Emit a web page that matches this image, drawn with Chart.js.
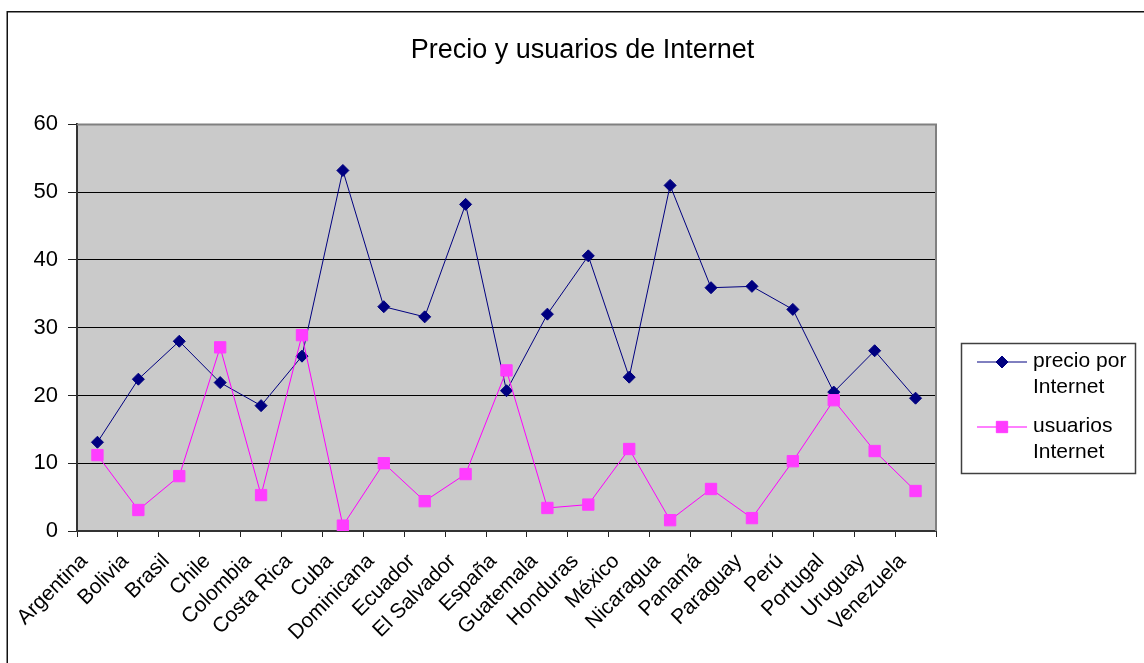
<!DOCTYPE html>
<html lang="es">
<head>
<meta charset="utf-8">
<title>Precio y usuarios de Internet</title>
<script src="https://cdn.jsdelivr.net/npm/chart.js@4/dist/chart.umd.min.js"></script>
<style>
  html, body { margin: 0; padding: 0; background: #fff; }
  canvas { display: block; }
</style>
</head>
<body>
<canvas id="precio-chart" width="1144" height="663"></canvas>
<script>
const paises = [
  "Argentina", "Bolivia", "Brasil", "Chile", "Colombia", "Costa Rica", "Cuba",
  "Dominicana", "Ecuador", "El Salvador", "España", "Guatemala", "Honduras",
  "México", "Nicaragua", "Panamá", "Paraguay", "Perú", "Portugal", "Uruguay", "Venezuela"
];
const precioInternet = [
  13.1, 22.4, 28.0, 21.9, 18.5, 25.8, 53.2, 33.1, 31.6, 48.2, 20.7,
  32.0, 40.6, 22.7, 51.0, 35.9, 36.1, 32.7, 20.5, 26.6, 19.6
];
const usuariosInternet = [
  11.2, 3.1, 8.1, 27.1, 5.3, 28.9, 0.8, 10.0, 4.4, 8.4, 23.7,
  3.4, 3.9, 12.1, 1.6, 6.2, 1.9, 10.3, 19.3, 11.8, 5.9
];
const yMin = 0;
const yMax = 60;
const yStep = 10;

const FONT = 'Arial, "Liberation Sans", sans-serif';
const navy = "#000080";
const magenta = "#ff3cff";
const plotGray = "#cacaca";

Chart.defaults.font.family = FONT;
Chart.defaults.color = "#000";

// fondo gris del área de trazado y marco del gráfico
const plotFrame = {
  id: "plotFrame",
  beforeDraw(chart) {
    const { ctx, chartArea: a } = chart;
    ctx.save();
    ctx.fillStyle = "#fff";
    ctx.fillRect(0, 0, chart.width, chart.height);
    ctx.strokeStyle = "#111";
    ctx.lineWidth = 1.5;
    ctx.strokeRect(7.25, 11.75, chart.width + 20, chart.height + 20);
    ctx.fillStyle = plotGray;
    ctx.fillRect(a.left, a.top, a.width, a.height);
    ctx.restore();
  },
  beforeDatasetsDraw(chart) {
    // borde gris arriba y a la derecha
    const { ctx, chartArea: a } = chart;
    ctx.save();
    ctx.strokeStyle = "#808080";
    ctx.lineWidth = 2;
    ctx.beginPath();
    ctx.moveTo(a.left, a.top);
    ctx.lineTo(a.right, a.top);
    ctx.lineTo(a.right, a.bottom);
    ctx.stroke();
    ctx.restore();
  },
};

function drawMarker(ctx, ds, x, y) {
  ctx.fillStyle = ds.pointBackgroundColor;
  ctx.strokeStyle = ds.pointBorderColor;
  ctx.lineWidth = ds.pointBorderWidth;
  if (Chart.helpers && Chart.helpers.drawPoint) {
    Chart.helpers.drawPoint(ctx, {
      pointStyle: ds.pointStyle,
      radius: ds.pointRadius,
      borderWidth: ds.pointBorderWidth,
      rotation: 0,
    }, x, y);
    return;
  }
  const r = ds.pointRadius;
  ctx.beginPath();
  if (ds.pointStyle === "rectRot") {
    ctx.moveTo(x, y - r);
    ctx.lineTo(x + r, y);
    ctx.lineTo(x, y + r);
    ctx.lineTo(x - r, y);
  } else {
    const s = r * Math.SQRT1_2;
    ctx.rect(x - s, y - s, 2 * s, 2 * s);
  }
  ctx.closePath();
  ctx.fill();
  ctx.stroke();
}

// leyenda en recuadro, con el texto en dos líneas
const seriesLegend = {
  id: "seriesLegend",
  afterDraw(chart) {
    const { ctx } = chart;
    ctx.save();
    ctx.fillStyle = "#fff";
    ctx.fillRect(961.5, 343.5, 174, 130);
    ctx.strokeStyle = "#404040";
    ctx.lineWidth = 1.5;
    ctx.strokeRect(961.5, 343.5, 174, 130);
    chart.data.datasets.forEach((ds, i) => {
      const y = 362 + i * 65;
      ctx.strokeStyle = ds.borderColor;
      ctx.lineWidth = 1;
      ctx.beginPath();
      ctx.moveTo(977, y);
      ctx.lineTo(1027, y);
      ctx.stroke();
      drawMarker(ctx, ds, 1002, y);
      ctx.fillStyle = "#000";
      ctx.font = "21px " + FONT;
      ctx.textBaseline = "alphabetic";
      ctx.textAlign = "left";
      ds.legendLines.forEach((t, k) => ctx.fillText(t, 1033, y + 5 + k * 26));
    });
    ctx.restore();
  },
};

new Chart(document.getElementById("precio-chart"), {
  type: "line",
  data: {
    labels: paises,
    datasets: [
      {
        label: "precio por Internet",
        legendLines: ["precio por", "Internet"],
        data: precioInternet,
        borderColor: navy,
        borderWidth: 1,
        pointStyle: "rectRot",
        pointRadius: 6,
        pointBackgroundColor: navy,
        pointBorderColor: navy,
        pointBorderWidth: 1,
        tension: 0,
        order: 1,
      },
      {
        label: "usuarios Internet",
        legendLines: ["usuarios", "Internet"],
        data: usuariosInternet,
        borderColor: "#ff00ff",
        borderWidth: 1,
        pointStyle: "rect",
        pointRadius: 8,
        pointBackgroundColor: magenta,
        pointBorderColor: magenta,
        pointBorderWidth: 1,
        tension: 0,
        order: 0,
      },
    ],
  },
  options: {
    responsive: false,
    animation: false,
    devicePixelRatio: 1,
    layout: { padding: { left: 21, right: 0, top: 0, bottom: 0 } },
    plugins: {
      legend: { display: false },
      tooltip: { enabled: false },
      title: {
        display: true,
        text: "Precio y usuarios de Internet",
        color: "#000",
        font: { size: 27, weight: "normal" },
        padding: { top: 34, bottom: 58 },
      },
    },
    scales: {
      x: {
        offset: true,
        grid: {
          offset: true,
          drawOnChartArea: false,
          drawTicks: true,
          tickLength: 6,
          color: "#222",
        },
        border: { color: "#333", width: 2 },
        ticks: {
          color: "#000",
          font: { size: 21 },
          minRotation: 45,
          maxRotation: 45,
          autoSkip: false,
          padding: 12,
          labelOffset: -13,
        },
        afterFit: (s) => { s.height = 132; },
      },
      y: {
        min: yMin,
        max: yMax,
        ticks: { stepSize: yStep, color: "#000", font: { size: 22 }, padding: 10 },
        grid: {
          color: (c) => (c.tick && c.tick.value === yMax ? "rgba(0,0,0,0)" : "#000"),
          tickColor: "#222",
          tickLength: 9,
          lineWidth: 1,
        },
        border: { color: "#333", width: 2 },
        afterFit: (s) => { s.width = 56; },
      },
      // espacio reservado a la derecha para la leyenda
      margen: {
        type: "linear",
        position: "right",
        display: true,
        grid: { display: false },
        ticks: { display: false },
        border: { display: false },
        afterFit: (s) => { s.width = 208; },
      },
    },
  },
  plugins: [plotFrame, seriesLegend],
});
</script>
</body>
</html>
